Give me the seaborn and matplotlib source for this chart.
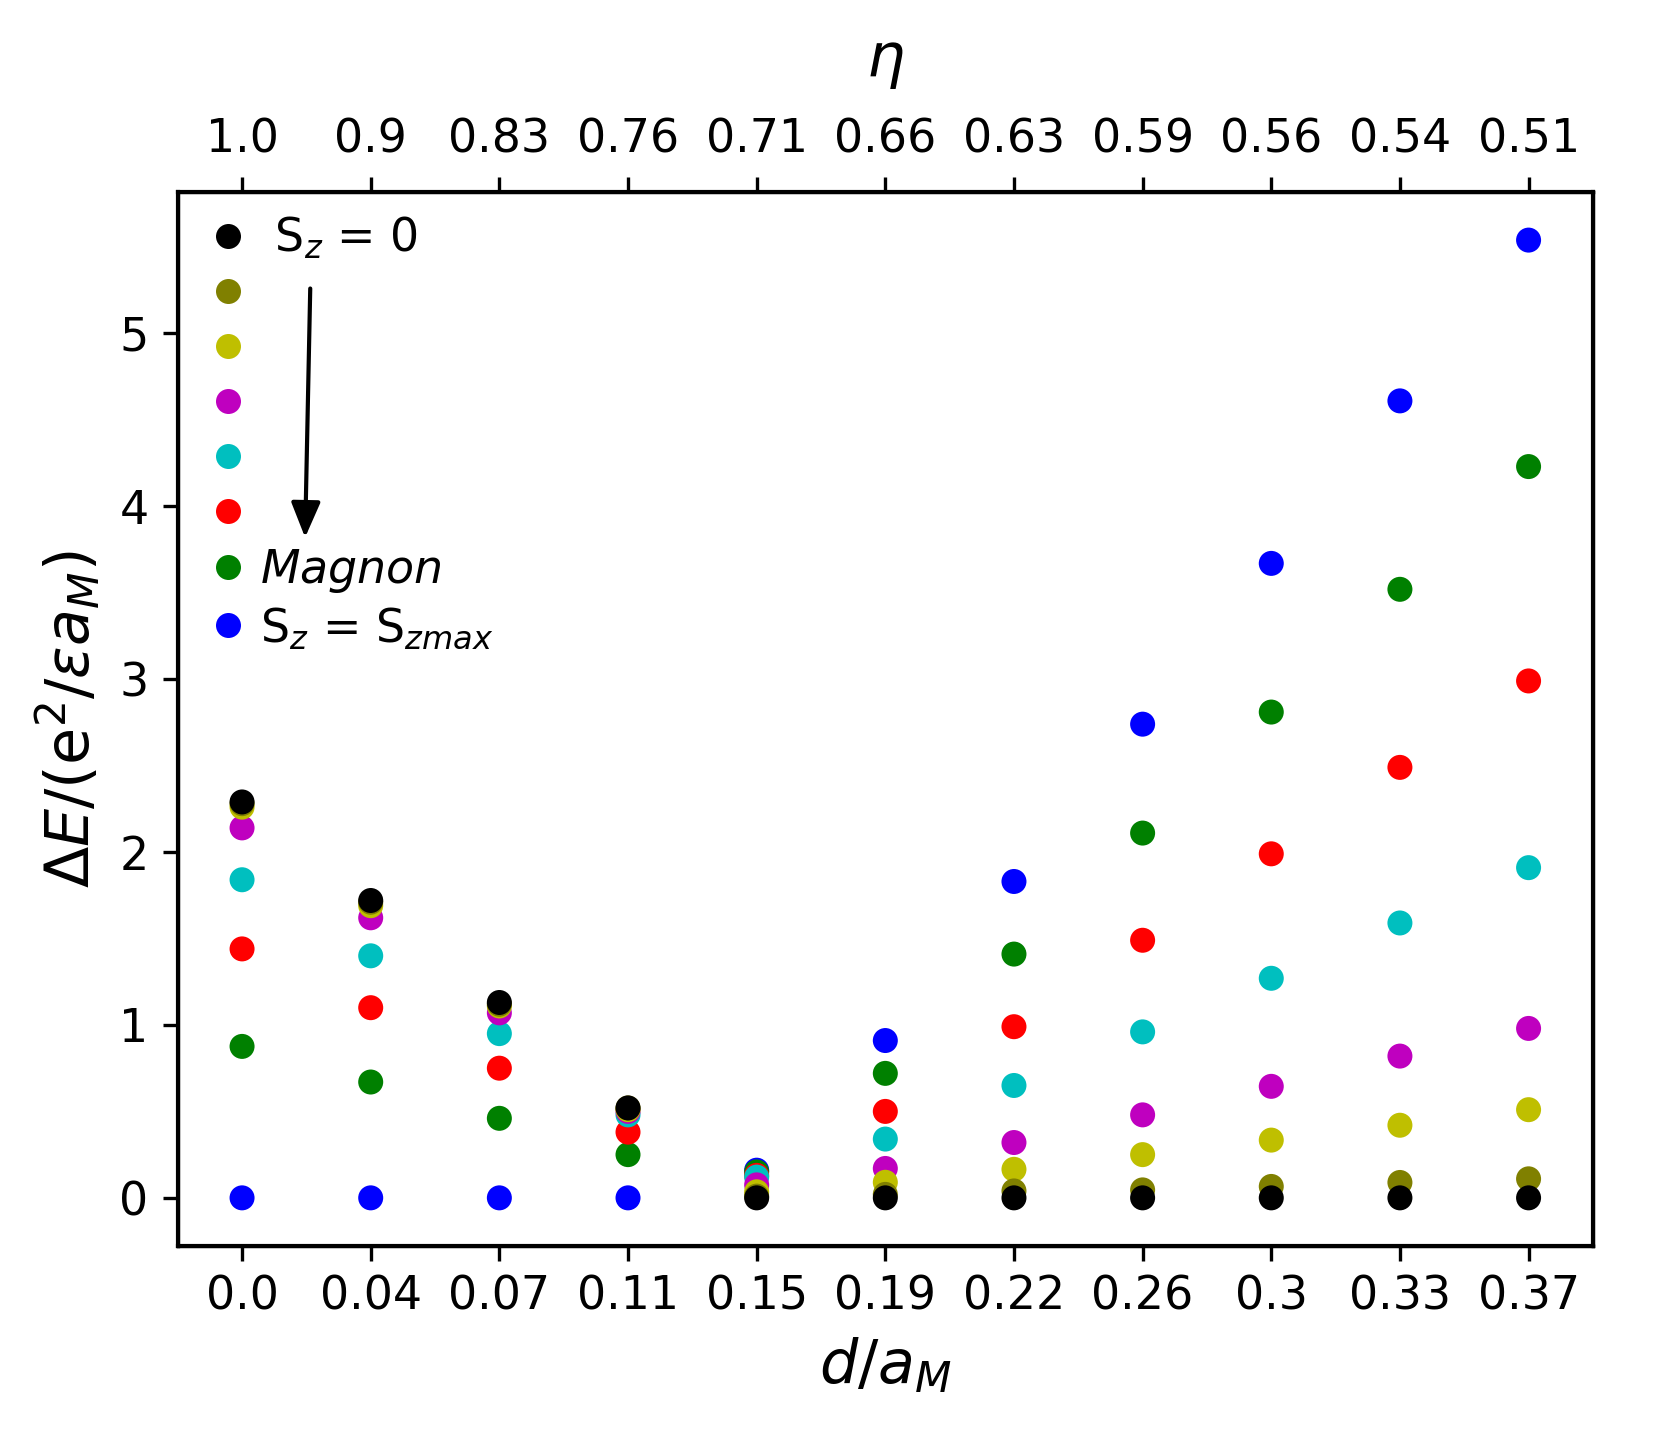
import numpy as np
import pandas as pd
import matplotlib
matplotlib.use('Agg')
import matplotlib.pyplot as plt
import seaborn as sns

# x categories (bottom axis d/a_M) and top axis eta
d_labels = ['0.0', '0.04', '0.07', '0.11', '0.15', '0.19', '0.22', '0.26', '0.3', '0.33', '0.37']
eta_labels = ['1.0', '0.9', '0.83', '0.76', '0.71', '0.66', '0.63', '0.59', '0.56', '0.54', '0.51']

# energy gaps for each Sz sector
e_black = [2.29, 1.72, 1.13, 0.52, 0.0, 0.0, 0.0, 0.0, 0.0, 0.0, 0.0]
e_olive = [2.28, 1.71, 1.12, 0.52, 0.01, 0.02, 0.04, 0.046, 0.066, 0.089, 0.11]
e_yellow = [2.26, 1.69, 1.11, 0.51, 0.035, 0.09, 0.165, 0.25, 0.334, 0.42, 0.51]
e_magenta = [2.14, 1.62, 1.07, 0.50, 0.075, 0.17, 0.32, 0.48, 0.645, 0.82, 0.98]
e_cyan = [1.84, 1.40, 0.95, 0.48, 0.12, 0.34, 0.65, 0.96, 1.27, 1.59, 1.91]
e_red = [1.44, 1.10, 0.75, 0.38, 0.13, 0.50, 0.99, 1.49, 1.99, 2.49, 2.99]
e_green = [0.876, 0.67, 0.46, 0.25, 0.15, 0.72, 1.41, 2.11, 2.81, 3.52, 4.23]
e_blue = [0.0, 0.0, 0.0, 0.0, 0.16, 0.91, 1.83, 2.74, 3.67, 4.61, 5.54]

states = ['k', 'olive', 'y', 'm', 'c', 'r', 'g', 'b']
colors = {'k': 'k', 'olive': 'olive', 'y': 'y', 'm': 'm', 'c': 'c', 'r': 'r', 'g': 'g', 'b': 'b'}
values = {'k': e_black, 'olive': e_olive, 'y': e_yellow, 'm': e_magenta,
          'c': e_cyan, 'r': e_red, 'g': e_green, 'b': e_blue}

# build long table, blue first so black is drawn on top
rows = []
for st in states[::-1]:
    for i, v in enumerate(values[st]):
        rows.append({'pos': i, 'dE': v, 'state': st})
df = pd.DataFrame(rows)

sns.set_style('ticks')
plt.rcParams['font.family'] = ['DejaVu Sans']
plt.rcParams['mathtext.fontset'] = 'dejavusans'
plt.rcParams['text.color'] = 'black'
plt.rcParams['axes.labelcolor'] = 'black'
plt.rcParams['xtick.color'] = 'black'
plt.rcParams['ytick.color'] = 'black'
plt.rcParams['axes.edgecolor'] = 'black'

fig, ax = plt.subplots(figsize=(1661 / 300, 1437 / 300), dpi=300)
fig.subplots_adjust(left=0.107, right=0.959, top=0.8666, bottom=0.1331)

sns.scatterplot(data=df, x='pos', y='dE', hue='state', hue_order=states,
                palette=colors, s=36, linewidth=0, ax=ax, legend=True)

ax.set_xticks(range(len(d_labels)))
ax.set_xticklabels(d_labels, fontsize=11)
ax.set_yticks([0, 1, 2, 3, 4, 5])
ax.tick_params(axis='both', labelsize=11)
ax.set_xlabel('$d/a_M$', fontsize=14.5)
ax.set_ylabel(r'$\Delta E$/(e$^2$/$\epsilon a_M$)', fontsize=14.5)
ax.set_xlim(-0.5, 10.5)
ax.set_ylim(-0.277, 5.82)

for sp in ax.spines.values():
    sp.set_linewidth(1.0)

# top axis with eta values
ax2 = ax.twiny()
ax2.set_xlim(ax.get_xlim())
ax2.set_xticks(range(len(eta_labels)))
ax2.set_xticklabels(eta_labels, fontsize=11)
ax2.set_xlabel(r'$\eta$', fontsize=14.5, labelpad=10)

# legend
handles, _ = ax.get_legend_handles_labels()
labels = [' S$_z$ = 0', '', '', '', '', '', '$Magnon$', 'S$_z$ = S$_{zmax}$']
ax.legend(handles, labels, loc='upper left', bbox_to_anchor=(0.0045, 1.0015),
          frameon=False, fontsize=11,
          handlelength=0.8, handletextpad=0.3, labelspacing=0.22,
          borderaxespad=0.3, borderpad=0.25)

# arrow
ax.annotate('', xy=(0.49, 3.82), xytext=(0.53, 5.26),
            arrowprops=dict(arrowstyle='-|>,head_length=0.6,head_width=0.25', color='k',
                            lw=1.0, mutation_scale=12, shrinkA=0, shrinkB=0))

plt.savefig('out.png', dpi=300)
